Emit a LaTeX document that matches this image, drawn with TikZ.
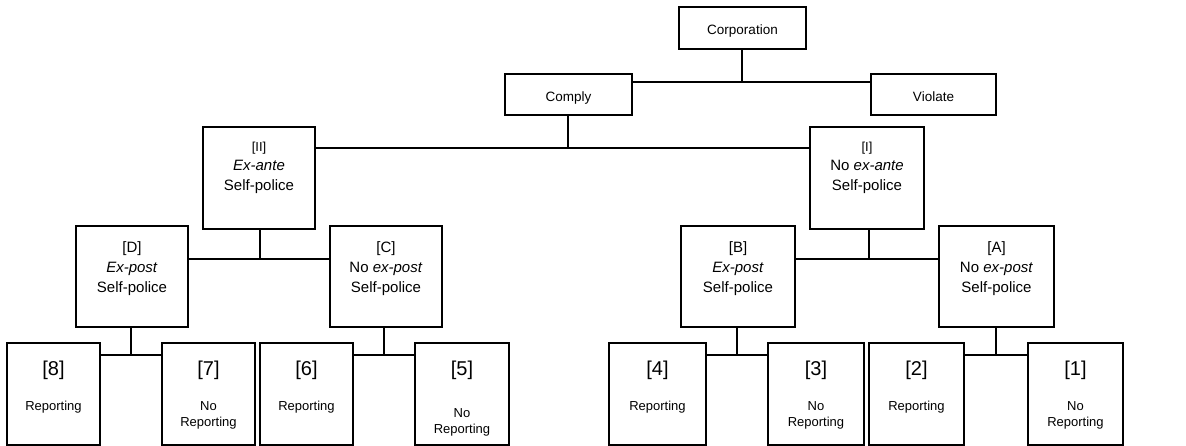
\documentclass[tikz,border=0pt]{standalone}
\usepackage{fontspec}
\setmainfont{Liberation Sans}
\begin{document}
\begin{tikzpicture}[x=1pt,y=-1pt,
  box/.style={draw,line width=1.1pt,inner sep=0pt,minimum height=#1},
  conn/.style={draw,line width=1.1pt},
  topf/.style={font=\fontsize{13.5}{16}\selectfont,anchor=base,inner sep=0pt},
  midf/.style={font=\fontsize{15}{20}\selectfont,anchor=base,inner sep=0pt,align=center},
  numf/.style={font=\fontsize{20}{22}\selectfont,anchor=base,inner sep=0pt},
  repf/.style={font=\fontsize{13}{16}\selectfont,anchor=base,inner sep=0pt,align=center}]
\useasboundingbox (0,0) rectangle (1186,446);
% top level
\node[box=42pt,minimum width=127pt] (corp) at (742.5,28) {};
\node[box=41pt,minimum width=127pt] (comply) at (568.5,94.5) {};
\node[box=41pt,minimum width=125pt] (violate) at (933.5,94.5) {};
\node[topf] (tcorp) at (742.5,35) {Corporation};
\node[topf] (tcomply) at (568.5,102) {Comply};
\node[topf] (tviolate) at (933.5,102) {Violate};
% ex-ante level
\node[box=102pt,minimum width=112pt] (ii) at (259,178) {};
\node[box=102pt,minimum width=114pt] (i) at (867,178) {};
\node[midf] (tii) at (259,191) {{\fontsize{13}{18}\selectfont [II]}\\[-1pt]\textit{Ex-ante}\\Self-police};
\node[midf] (ti) at (867,191) {{\fontsize{13}{18}\selectfont [I]}\\[-1pt]No \textit{ex-ante}\\Self-police};
% ex-post level
\node[box=101pt,minimum width=112pt] (D) at (132,276.5) {};
\node[box=101pt,minimum width=112pt] (C) at (386,276.5) {};
\node[box=101pt,minimum width=114pt] (B) at (738,276.5) {};
\node[box=101pt,minimum width=115pt] (A) at (996.5,276.5) {};
\node[midf] (tD) at (132,293) {[D]\\\textit{Ex-post}\\Self-police};
\node[midf] (tC) at (386,293) {[C]\\No \textit{ex-post}\\Self-police};
\node[midf] (tB) at (738,293) {[B]\\\textit{Ex-post}\\Self-police};
\node[midf] (tA) at (996.5,293) {[A]\\No \textit{ex-post}\\Self-police};
% leaves
\node[box=102pt,minimum width=93pt] (L8) at (53.5,394) {};
\node[box=102pt,minimum width=93pt] (L7) at (208.5,394) {};
\node[box=102pt,minimum width=93pt] (L6) at (306.5,394) {};
\node[box=102pt,minimum width=94pt] (L5) at (462,394) {};
\node[box=102pt,minimum width=97pt] (L4) at (657.5,394) {};
\node[box=102pt,minimum width=96pt] (L3) at (816,394) {};
\node[box=102pt,minimum width=95pt] (L2) at (916.5,394) {};
\node[box=102pt,minimum width=95pt] (L1) at (1075.5,394) {};
\node[numf] (n8) at (53.5,375) {[8]};
\node[numf] (n7) at (208.5,375) {[7]};
\node[numf] (n6) at (306.5,375) {[6]};
\node[numf] (n5) at (462,375) {[5]};
\node[numf] (n4) at (657.5,375) {[4]};
\node[numf] (n3) at (816,375) {[3]};
\node[numf] (n2) at (916.5,375) {[2]};
\node[numf] (n1) at (1075.5,375) {[1]};
\node[repf] (r8) at (53.5,410) {Reporting};
\node[repf] (r7) at (208.5,426) {No\\Reporting};
\node[repf] (r6) at (306.5,410) {Reporting};
\node[repf] (r5) at (462,433) {No\\Reporting};
\node[repf] (r4) at (657.5,410) {Reporting};
\node[repf] (r3) at (816,426) {No\\Reporting};
\node[repf] (r2) at (916.5,410) {Reporting};
\node[repf] (r1) at (1075.5,426) {No\\Reporting};
% junctions
\coordinate (j1) at (742,82);
\coordinate (j2) at (568,148);
\coordinate (j3) at (260,259);
\coordinate (j4) at (869,259);
\coordinate (j5) at (131,355);
\coordinate (j6) at (384,355);
\coordinate (j7) at (737,355);
\coordinate (j8) at (996,355);
% connectors
\draw[conn] (corp.south -| j1) -- (j1);
\draw[conn] (comply.east |- j1) -- (violate.west |- j1);
\draw[conn] (comply.south -| j2) -- (j2);
\draw[conn] (ii.east |- j2) -- (i.west |- j2);
\draw[conn] (ii.south -| j3) -- (j3);
\draw[conn] (D.east |- j3) -- (C.west |- j3);
\draw[conn] (i.south -| j4) -- (j4);
\draw[conn] (B.east |- j4) -- (A.west |- j4);
\draw[conn] (D.south -| j5) -- (j5);
\draw[conn] (L8.east |- j5) -- (L7.west |- j5);
\draw[conn] (C.south -| j6) -- (j6);
\draw[conn] (L6.east |- j6) -- (L5.west |- j6);
\draw[conn] (B.south -| j7) -- (j7);
\draw[conn] (L4.east |- j7) -- (L3.west |- j7);
\draw[conn] (A.south -| j8) -- (j8);
\draw[conn] (L2.east |- j8) -- (L1.west |- j8);
\end{tikzpicture}
\end{document}
